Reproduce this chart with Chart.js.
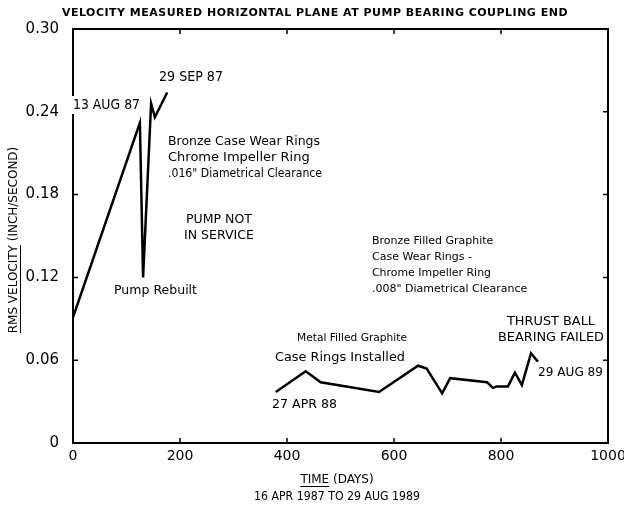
<!DOCTYPE html>
<html>
<head>
<meta charset="utf-8">
<script src="https://cdn.jsdelivr.net/npm/chart.js@4/dist/chart.umd.min.js"></script>
<style>
    html, body { margin: 0; padding: 0; background: #fff; }
    #wrap { width: 624px; height: 505px; }
</style>
</head>
<body>
<div id="wrap"><canvas id="velocityChart" width="624" height="505"></canvas></div>
<script>
// days since 16 APR 1987 / RMS velocity (inch/second)
const daysBefore = [0, 125, 131, 146, 153, 176];
const velocityBefore = [0.091, 0.232, 0.120, 0.246, 0.236, 0.254];

const daysAfter = [379, 435, 463, 572, 645, 661, 690, 705, 774, 785, 792, 813, 826, 839, 856, 869];
const velocityAfter = [0.037, 0.052, 0.044, 0.037, 0.056, 0.054, 0.036, 0.047, 0.044, 0.040, 0.041, 0.041, 0.051, 0.042, 0.065, 0.059];

const xTicks = [0, 200, 400, 600, 800, 1000];
const yTicks = [0, 0.06, 0.12, 0.18, 0.24, 0.30];
const yTickLabels = ['0', '0.06', '0.12', '0.18', '0.24', '0.30'];

const FONT = '"DejaVu Sans", sans-serif';

const notes = [
    { text: '13 AUG 87', x: 73, y: 105, size: 14, w: 67, bg: true },
    { text: '29 SEP 87', x: 159, y: 77, size: 14, w: 64 },
    { text: 'Bronze Case Wear Rings', x: 168, y: 142, size: 13, w: 152 },
    { text: 'Chrome Impeller Ring', x: 168, y: 158, size: 13, w: 142 },
    { text: '.016" Diametrical Clearance', x: 168, y: 174, size: 13, w: 154 },
    { text: 'PUMP NOT', x: 219, y: 220, size: 13, align: 'center', w: 66 },
    { text: 'IN SERVICE', x: 219, y: 236, size: 13, align: 'center', w: 70 },
    { text: 'Pump Rebuilt', x: 114, y: 291, size: 13, w: 83 },
    { text: 'Bronze Filled Graphite', x: 372, y: 241, size: 11, w: 129 },
    { text: 'Case Wear Rings -', x: 372, y: 257, size: 11, w: 100 },
    { text: 'Chrome Impeller Ring', x: 372, y: 273, size: 11, w: 119 },
    { text: '.008" Diametrical Clearance', x: 372, y: 289, size: 11, w: 159 },
    { text: 'Metal Filled Graphite', x: 297, y: 338, size: 11, w: 110 },
    { text: 'Case Rings Installed', x: 275, y: 358, size: 13, w: 130 },
    { text: '27 APR 88', x: 272, y: 405, size: 13, w: 65 },
    { text: 'THRUST BALL', x: 551, y: 322, size: 13, align: 'center', w: 88 },
    { text: 'BEARING FAILED', x: 551, y: 338, size: 13, align: 'center', w: 106 },
    { text: '29 AUG 89', x: 538, y: 373, size: 13, w: 65 },
];

function underlinedText(ctx, first, rest, cx, cy) {
    const w1 = ctx.measureText(first).width;
    const w2 = ctx.measureText(rest).width;
    const left = cx - (w1 + w2) / 2;
    ctx.textAlign = 'left';
    ctx.fillText(first, left, cy);
    ctx.fillText(rest, left + w1, cy);
    ctx.fillRect(left, cy + 6, w1, 1);
}

const frameAndNotes = {
    id: 'frameAndNotes',
    afterDraw(chart) {
        const ctx = chart.ctx;
        const area = chart.chartArea;
        const xs = chart.scales.x;
        const ys = chart.scales.y;

        ctx.save();
        ctx.strokeStyle = '#000';
        ctx.lineWidth = 2;
        ctx.strokeRect(area.left, area.top, area.right - area.left, area.bottom - area.top);

        ctx.lineWidth = 1.5;
        ctx.beginPath();
        xTicks.slice(1, -1).forEach((v) => {
            const px = xs.getPixelForValue(v);
            ctx.moveTo(px, area.bottom);
            ctx.lineTo(px, area.bottom - 5);
            ctx.moveTo(px, area.top);
            ctx.lineTo(px, area.top + 5);
        });
        yTicks.slice(1, -1).forEach((v) => {
            const py = ys.getPixelForValue(v);
            ctx.moveTo(area.left, py);
            ctx.lineTo(area.left + 5, py);
            ctx.moveTo(area.right, py);
            ctx.lineTo(area.right - 5, py);
        });
        ctx.stroke();

        ctx.fillStyle = '#000';
        ctx.textBaseline = 'middle';

        ctx.font = 'bold 11px ' + FONT;
        ctx.textAlign = 'center';
        ctx.letterSpacing = '0.5px';
        ctx.fillText('VELOCITY MEASURED HORIZONTAL PLANE AT PUMP BEARING COUPLING END', 315, 13, 506);
        ctx.letterSpacing = '0px';

        notes.forEach((n) => {
            ctx.font = n.size + 'px ' + FONT;
            ctx.textAlign = n.align || 'left';
            if (n.bg) {
                const tw = Math.min(ctx.measureText(n.text).width, n.w || 9999);
                ctx.fillStyle = '#fff';
                ctx.fillRect(n.x - 1, n.y - 9, tw + 2, 18);
                ctx.fillStyle = '#000';
            }
            ctx.fillText(n.text, n.x, n.y, n.w);
        });

        ctx.font = '12px ' + FONT;
        underlinedText(ctx, 'TIME', ' (DAYS)', 337, 480);
        ctx.textAlign = 'center';
        ctx.fillText('16 APR 1987 TO 29 AUG 1989', 337, 497, 166);

        ctx.translate(14, 240);
        ctx.rotate(-Math.PI / 2);
        underlinedText(ctx, 'RMS VELOCITY', ' (INCH/SECOND)', 0, 0);
        ctx.restore();
    },
};

const toPoints = (xs, ys) => xs.map((d, i) => ({ x: d, y: ys[i] }));

new Chart(document.getElementById('velocityChart'), {
    type: 'scatter',
    data: {
        datasets: [
            {
                data: toPoints(daysBefore, velocityBefore),
                showLine: true,
                borderColor: '#000',
                borderWidth: 2.5,
                pointRadius: 0,
                tension: 0,
            },
            {
                data: toPoints(daysAfter, velocityAfter),
                showLine: true,
                borderColor: '#000',
                borderWidth: 2.5,
                pointRadius: 0,
                tension: 0,
            },
        ],
    },
    options: {
        responsive: false,
        animation: false,
        layout: {
            padding: { top: 29, right: 16, left: 0, bottom: 0 },
        },
        plugins: {
            legend: { display: false },
            tooltip: { enabled: false },
        },
        scales: {
            x: {
                type: 'linear',
                min: 0,
                max: 1000,
                afterBuildTicks: (scale) => {
                    scale.ticks = xTicks.map((v) => ({ value: v }));
                },
                afterFit: (scale) => {
                    scale.height = 62;
                    scale.paddingLeft = 0;
                    scale.paddingRight = 0;
                },
                ticks: {
                    color: '#000',
                    padding: 5,
                    maxRotation: 0,
                    autoSkip: false,
                    font: { family: FONT, size: 14 },
                    callback: (value) => String(value),
                },
                grid: { display: false, drawTicks: false },
                border: { display: false },
            },
            y: {
                type: 'linear',
                min: 0,
                max: 0.30,
                afterBuildTicks: (scale) => {
                    scale.ticks = yTicks.map((v) => ({ value: v }));
                },
                afterFit: (scale) => {
                    scale.width = 73;
                    scale.paddingTop = 0;
                    scale.paddingBottom = 0;
                },
                ticks: {
                    color: '#000',
                    padding: 14,
                    autoSkip: false,
                    font: { family: FONT, size: 15 },
                    callback: (value, index) => yTickLabels[index],
                },
                grid: { display: false, drawTicks: false },
                border: { display: false },
            },
        },
    },
    plugins: [frameAndNotes],
});
</script>
</body>
</html>
